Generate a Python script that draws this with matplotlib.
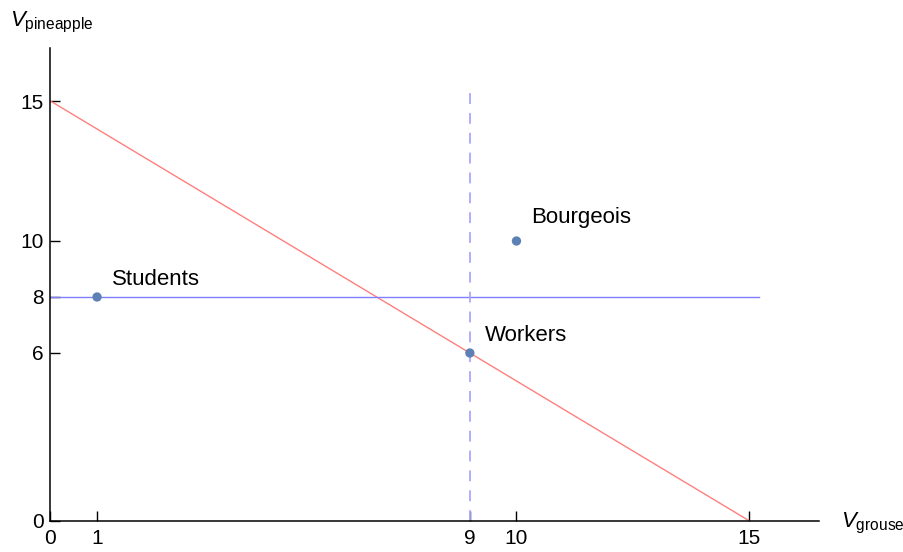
import matplotlib
matplotlib.use("Agg")
import matplotlib.pyplot as plt

plt.rcParams["font.family"] = ["Liberation Sans", "DejaVu Sans"]
plt.rcParams["mathtext.fontset"] = "custom"
plt.rcParams["mathtext.rm"] = "Liberation Sans"
plt.rcParams["mathtext.it"] = "Liberation Sans:italic"

# groups and their (grouse, pineapple) valuations
groups = ["Students", "Workers", "Bourgeois"]
v_grouse = [1, 9, 10]
v_pineapple = [8, 6, 10]

# budget line from (0, 15) to (15, 0)
budget_x = [0, 15]
budget_y = [15, 0]

# reference lines
students_level = 8
students_line_end = 15.2
workers_level = 9
workers_line_top = 15.3

xticks = [0, 1, 9, 10, 15]
yticks = [0, 6, 8, 10, 15]

W, H = 904, 552
fig = plt.figure(figsize=(W / 100, H / 100), dpi=100)
ax = fig.add_axes([0.0558, 0.0562, 0.8506, 0.8572])
ax.set_xlim(0, 16.5)
ax.set_ylim(0, 16.9)

ax.plot(budget_x, budget_y, color="#ff7f7f", lw=1.0, zorder=2)
ax.plot([0, students_line_end], [students_level, students_level], color="#7f7fff", lw=1.0, zorder=2)
ax.plot([workers_level, workers_level], [0, workers_line_top], color="#a8a8ff", lw=1.3,
        dashes=(6, 5), zorder=2)

ax.scatter(v_grouse, v_pineapple, s=45, color="#5e81b5", zorder=3, edgecolors="none")
# label offsets in pixels (right, up)
offsets = {"Students": (15, 12), "Workers": (15, 12), "Bourgeois": (15, 18)}
for name, gx, py in zip(groups, v_grouse, v_pineapple):
    dx, dy = offsets[name]
    ax.annotate(name, (gx, py), xytext=(dx * 0.72, dy * 0.72), textcoords="offset points",
                fontsize=16, ha="left", va="baseline")

for s in ["top", "right"]:
    ax.spines[s].set_visible(False)
for s in ["left", "bottom"]:
    ax.spines[s].set_linewidth(1.1)

ax.set_xticks(xticks)
ax.set_yticks(yticks)
ax.tick_params(direction="in", length=7, width=1, labelsize=15)
ax.tick_params(axis="x", pad=6)
ax.tick_params(axis="y", pad=5)

fig.text(10 / W, 1 - 26 / H, r"$V_{\mathrm{pineapple}}$", fontsize=16, ha="left", va="baseline")
fig.text(841 / W, 1 - 527 / H, r"$V_{\mathrm{grouse}}$", fontsize=16, ha="left", va="baseline")

fig.savefig("out.png", dpi=100)
